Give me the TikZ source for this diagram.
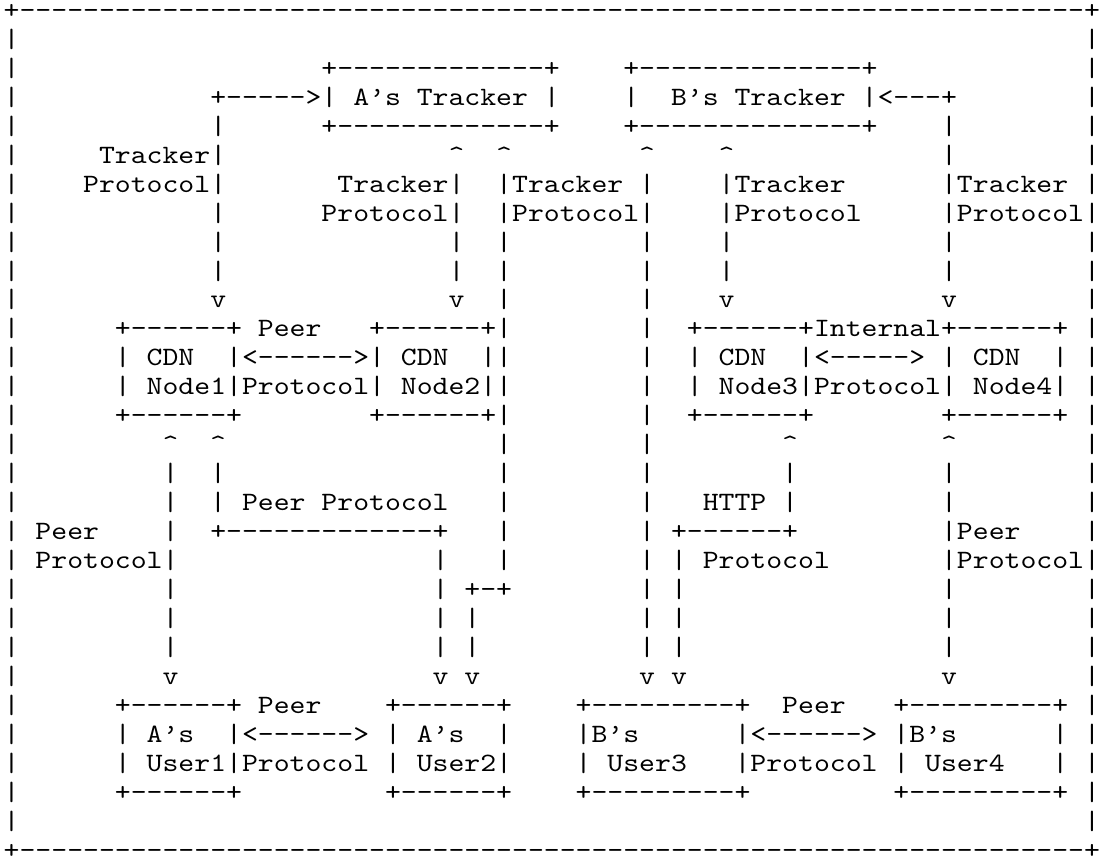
\documentclass[tikz,border=0pt]{standalone}
\usepackage{fontspec}
\setmonofont{lmmono10-regular.otf}[FakeStretch=1.142857]
\newlength\cw
\setlength\cw{11.916pt}
\newcommand\gp[1]{\kern#1\cw\relax}
\newcommand\crt{\char94\relax}
\ExplSyntaxOn
\NewDocumentCommand\dsh{m}{\prg_replicate:nn{#1}{-}}
\ExplSyntaxOff
\newcommand\asciifont{\ttfamily\fontsize{19.86pt}{22pt}\selectfont}
\tikzset{ascii/.style={anchor=base west, inner sep=0pt, outer sep=0pt, font=\asciifont, text=black}}
\begin{document}
\begin{tikzpicture}[x=0.75pt,y=-0.75pt]
\useasboundingbox[fill=white] (0,0) rectangle (1100,865);
\node[ascii] (row0)  at (3.72,18.5)   {+\dsh{67}+};
\node[ascii] (row1)  at (3.72,47.45)  {|\gp{67}|};
\node[ascii] (row2)  at (3.72,76.4)   {|\gp{19}+\dsh{13}+\gp{4}+\dsh{14}+\gp{13}|};
\node[ascii] (row3)  at (3.72,105.34) {|\gp{12}+\dsh{5}>|\gp{1}A’s\gp{1}Tracker\gp{1}|\gp{4}|\gp{2}B’s\gp{1}Tracker\gp{1}|<\dsh{3}+\gp{8}|};
\node[ascii] (row4)  at (3.72,134.29) {|\gp{12}|\gp{6}+\dsh{13}+\gp{4}+\dsh{14}+\gp{4}|\gp{8}|};
\node[ascii] (row5)  at (3.72,163.24) {|\gp{5}Tracker|\gp{14}\crt\gp{2}\crt\gp{8}\crt\gp{4}\crt\gp{13}|\gp{8}|};
\node[ascii] (row6)  at (3.72,192.19) {|\gp{4}Protocol|\gp{7}Tracker|\gp{2}|Tracker\gp{1}|\gp{4}|Tracker\gp{6}|Tracker\gp{1}|};
\node[ascii] (row7)  at (3.72,221.14) {|\gp{12}|\gp{6}Protocol|\gp{2}|Protocol|\gp{4}|Protocol\gp{5}|Protocol|};
\node[ascii] (row8)  at (3.72,250.08) {|\gp{12}|\gp{14}|\gp{2}|\gp{8}|\gp{4}|\gp{13}|\gp{8}|};
\node[ascii] (row9)  at (3.72,279.03) {|\gp{12}|\gp{14}|\gp{2}|\gp{8}|\gp{4}|\gp{13}|\gp{8}|};
\node[ascii] (row10) at (3.72,307.98) {|\gp{12}v\gp{14}v\gp{2}|\gp{8}|\gp{4}v\gp{13}v\gp{8}|};
\node[ascii] (row11) at (3.72,336.93) {|\gp{6}+\dsh{6}+\gp{1}Peer\gp{3}+\dsh{6}+|\gp{8}|\gp{2}+\dsh{6}+Internal+\dsh{6}+\gp{1}|};
\node[ascii] (row12) at (3.72,365.88) {|\gp{6}|\gp{1}CDN\gp{2}|<\dsh{6}>|\gp{1}CDN\gp{2}||\gp{8}|\gp{2}|\gp{1}CDN\gp{2}|<\dsh{5}>\gp{1}|\gp{1}CDN\gp{2}|\gp{1}|};
\node[ascii] (row13) at (3.72,394.82) {|\gp{6}|\gp{1}Node1|Protocol|\gp{1}Node2||\gp{8}|\gp{2}|\gp{1}Node3|Protocol|\gp{1}Node4|\gp{1}|};
\node[ascii] (row14) at (3.72,423.77) {|\gp{6}+\dsh{6}+\gp{8}+\dsh{6}+|\gp{8}|\gp{2}+\dsh{6}+\gp{8}+\dsh{6}+\gp{1}|};
\node[ascii] (row15) at (3.72,452.72) {|\gp{9}\crt\gp{2}\crt\gp{17}|\gp{8}|\gp{8}\crt\gp{9}\crt\gp{8}|};
\node[ascii] (row16) at (3.72,481.67) {|\gp{9}|\gp{2}|\gp{17}|\gp{8}|\gp{8}|\gp{9}|\gp{8}|};
\node[ascii] (row17) at (3.72,510.62) {|\gp{9}|\gp{2}|\gp{1}Peer\gp{1}Protocol\gp{3}|\gp{8}|\gp{3}HTTP\gp{1}|\gp{9}|\gp{8}|};
\node[ascii] (row18) at (3.72,539.56) {|\gp{1}Peer\gp{4}|\gp{2}+\dsh{13}+\gp{3}|\gp{8}|\gp{1}+\dsh{6}+\gp{9}|Peer\gp{4}|};
\node[ascii] (row19) at (3.72,568.51) {|\gp{1}Protocol|\gp{16}|\gp{3}|\gp{8}|\gp{1}|\gp{1}Protocol\gp{7}|Protocol|};
\node[ascii] (row20) at (3.72,597.46) {|\gp{9}|\gp{16}|\gp{1}+-+\gp{8}|\gp{1}|\gp{16}|\gp{8}|};
\node[ascii] (row21) at (3.72,626.41) {|\gp{9}|\gp{16}|\gp{1}|\gp{10}|\gp{1}|\gp{16}|\gp{8}|};
\node[ascii] (row22) at (3.72,655.36) {|\gp{9}|\gp{16}|\gp{1}|\gp{10}|\gp{1}|\gp{16}|\gp{8}|};
\node[ascii] (row23) at (3.72,684.3)  {|\gp{9}v\gp{16}v\gp{1}v\gp{10}v\gp{1}v\gp{16}v\gp{8}|};
\node[ascii] (row24) at (3.72,713.25) {|\gp{6}+\dsh{6}+\gp{1}Peer\gp{4}+\dsh{6}+\gp{4}+\dsh{9}+\gp{2}Peer\gp{3}+\dsh{9}+\gp{1}|};
\node[ascii] (row25) at (3.72,742.2)  {|\gp{6}|\gp{1}A’s\gp{2}|<\dsh{6}>\gp{1}|\gp{1}A’s\gp{2}|\gp{4}|B’s\gp{6}|<\dsh{6}>\gp{1}|B’s\gp{6}|\gp{1}|};
\node[ascii] (row26) at (3.72,771.15) {|\gp{6}|\gp{1}User1|Protocol\gp{1}|\gp{1}User2|\gp{4}|\gp{1}User3\gp{3}|Protocol\gp{1}|\gp{1}User4\gp{3}|\gp{1}|};
\node[ascii] (row27) at (3.72,800.1)  {|\gp{6}+\dsh{6}+\gp{9}+\dsh{6}+\gp{4}+\dsh{9}+\gp{9}+\dsh{9}+\gp{1}|};
\node[ascii] (row28) at (3.72,829.04) {|\gp{67}|};
\node[ascii] (row29) at (3.72,858)    {+\dsh{67}+};
\end{tikzpicture}
\end{document}
